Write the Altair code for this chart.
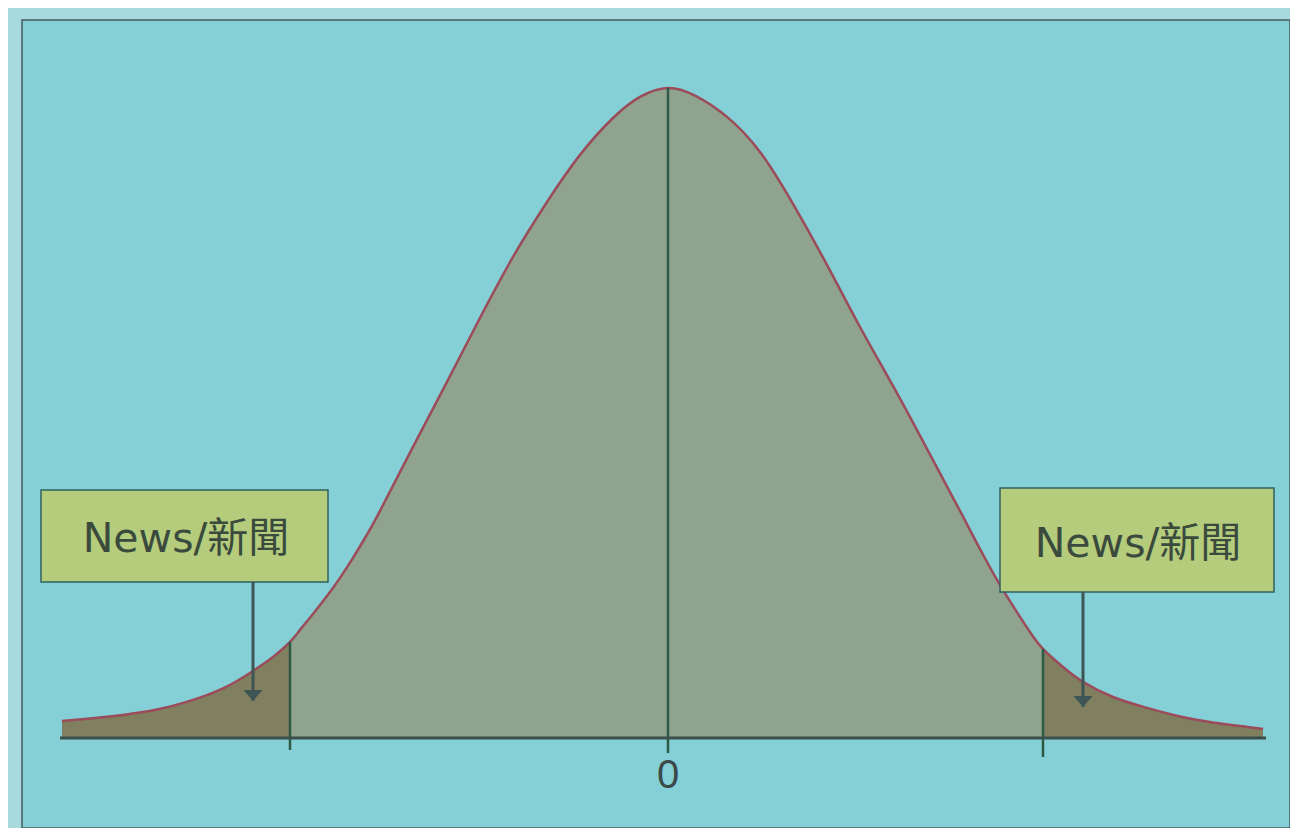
import altair as alt
import pandas as pd

# ---- data (x in standard units, y = density height) ----
curve_x = [-3.03, -2.89, -2.725, -2.555, -2.39, -2.225, -2.09, -1.975, -1.89, -1.84,
           -1.775, -1.69, -1.64, -1.575, -1.50, -1.44, -1.275, -1.105, -0.94, -0.775,
           -0.605, -0.44, -0.275, -0.14, 0.0,
           0.14, 0.295, 0.46, 0.625, 0.795, 0.96, 1.125, 1.295, 1.46, 1.56,
           1.66, 1.76, 1.81, 1.875, 1.975, 2.075, 2.225, 2.395, 2.56, 2.725, 2.895, 2.975]
curve_y = [0.0105, 0.0120, 0.0142, 0.0175, 0.0228, 0.0305, 0.0400, 0.0499, 0.0591, 0.0665,
           0.0763, 0.0898, 0.0985, 0.1108, 0.1262, 0.1397, 0.1791, 0.2191, 0.2585, 0.2960,
           0.3298, 0.3588, 0.3815, 0.3945, 0.4000,
           0.3950, 0.3822, 0.3606, 0.3286, 0.2911, 0.2529, 0.2166, 0.1779, 0.1397, 0.1163,
           0.0942, 0.0745, 0.0652, 0.0548, 0.0437, 0.0345, 0.0252, 0.0185, 0.0132, 0.0095,
           0.0068, 0.0055]
cutoffs = [-1.89, 1.875]
cutoff_tops = [0.0591, 0.0548]
center_x = [0.0]
center_top = [0.40]
tick_labels = ["0"]
box_labels = ["News/新聞", "News/新聞"]

# ---- derived tables ----
curve = pd.DataFrame({"x": curve_x, "y": curve_y})
left_tail = curve[curve.x <= cutoffs[0]]
right_tail = curve[curve.x >= cutoffs[1]]

vlines = pd.DataFrame({"x": cutoffs + center_x,
                       "top": cutoff_tops + center_top,
                       "bottom": [-0.0074, -0.0117, -0.0092]})
baseline = pd.DataFrame({"x": [-3.04], "x2": [2.99], "y": [0.0]})
boxes = pd.DataFrame({"x": [-3.135, 1.66], "x2": [-1.70, 3.03],
                      "y": [0.1526, 0.1538], "y2": [0.0960, 0.0898],
                      "tx": [-2.41, 2.35], "ty": [0.1218, 0.1190],
                      "label": box_labels})
arrows = pd.DataFrame({"x": [-2.075, 2.075], "y": [0.0960, 0.0898],
                       "tip": [0.0228, 0.0191]})
ticks = pd.DataFrame({"x": center_x, "y": [-0.0237], "label": tick_labels})

xs = alt.Scale(domain=[-3.23, 3.11], nice=False, zero=False)
ys = alt.Scale(domain=[-0.0554, 0.4418], nice=False, zero=False)

def X(f="x"):
    return alt.X(f"{f}:Q", scale=xs, axis=None)

def Y(f="y"):
    return alt.Y(f"{f}:Q", scale=ys, axis=None)

INTERP = "natural"

full_area = alt.Chart(curve).mark_area(color="#8fa38e", opacity=1, interpolate=INTERP).encode(
    x=X(), y=Y(), y2=alt.datum(0.0))
lt_area = alt.Chart(left_tail).mark_area(color="#807f5f", opacity=1, interpolate=INTERP).encode(
    x=X(), y=Y(), y2=alt.datum(0.0))
rt_area = alt.Chart(right_tail).mark_area(color="#807f5f", opacity=1, interpolate=INTERP).encode(
    x=X(), y=Y(), y2=alt.datum(0.0))

line = alt.Chart(curve).mark_line(color="#9c4b5a", strokeWidth=2.5, interpolate=INTERP).encode(
    x=X(), y=Y())

vrules = alt.Chart(vlines).mark_rule(color="#2c5a45", strokeWidth=2.5).encode(
    x=X(), y=Y("top"), y2="bottom:Q")

base = alt.Chart(baseline).mark_rule(color="#3b4f4c", strokeWidth=3).encode(
    x=X(), x2="x2:Q", y=Y())

rects = alt.Chart(boxes).mark_rect(fill="#b4cc7c", stroke="#2f6060", strokeWidth=1.5).encode(
    x=X(), x2="x2:Q", y=Y(), y2="y2:Q")

texts = alt.Chart(boxes).mark_text(font="DejaVu Sans, Noto Sans CJK TC", fontSize=41,
                                   color="#3a4a3c", align="center", baseline="middle").encode(
    x=X("tx"), y=Y("ty"), text="label:N")

shafts = alt.Chart(arrows).mark_rule(color="#3d5555", strokeWidth=3).encode(
    x=X(), y=Y(), y2="tip:Q")

heads = alt.Chart(arrows).mark_point(shape="M-0.95,-1.1L0.95,-1.1L0,0Z", size=400, filled=True,
                                     color="#3d5555", opacity=1).encode(
    x=X(), y=Y("tip"))

tick_text = alt.Chart(ticks).mark_text(font="Liberation Sans", fontSize=40, color="#3b4a48",
                                       align="center", baseline="middle").encode(
    x=X(), y=Y(), text="label:N")

chart = alt.layer(full_area, lt_area, rt_area, line, vrules, base, rects, texts, shafts, heads,
                  tick_text).properties(
    width=1268, height=808,
    padding={"left": 14, "top": 12, "right": 0, "bottom": 0},
    autosize=alt.AutoSizeParams(type="none"),
    background="#a6dadc",
).configure_view(fill="#84d0d6", stroke="#4a5a60", strokeWidth=1.5)

chart.save("out.html", embed_options={"renderer": "svg", "actions": False})
